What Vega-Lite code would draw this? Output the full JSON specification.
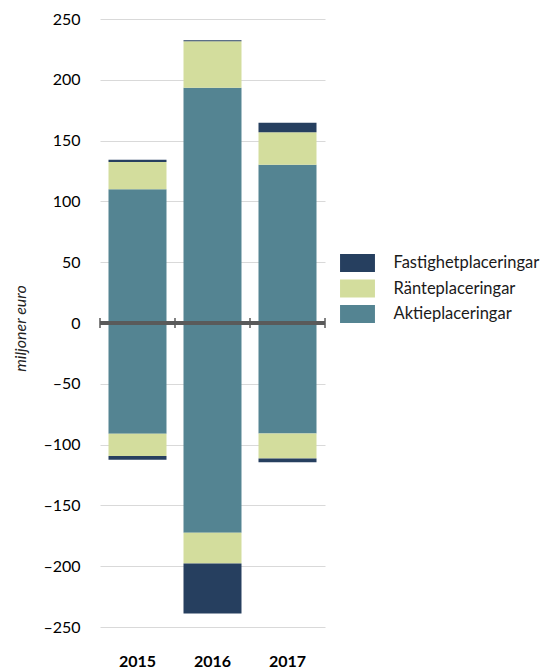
{
  "$schema": "https://vega.github.io/schema/vega-lite/v6.json",
  "width": 225,
  "height": 608,
  "autosize": "none",
  "padding": {"left": 100, "top": 19, "right": 224, "bottom": 42},
  "background": "white",
  "config": {
    "view": {"stroke": null},
    "font": "Lato",
    "axis": {"labelFont": "Lato", "titleFont": "Lato"},
    "legend": {"labelFont": "Lato"}
  },
  "data": {
    "values": [
      {"year": "2015", "type": "Aktieplaceringar", "ord": 1, "value": 110},
      {"year": "2015", "type": "Ränteplaceringar", "ord": 2, "value": 22.5},
      {"year": "2015", "type": "Fastighetplaceringar", "ord": 3, "value": 1.7},
      {"year": "2015", "type": "Aktieplaceringar", "ord": 1, "value": -91},
      {"year": "2015", "type": "Ränteplaceringar", "ord": 2, "value": -18.4},
      {"year": "2015", "type": "Fastighetplaceringar", "ord": 3, "value": -3},
      {"year": "2016", "type": "Aktieplaceringar", "ord": 1, "value": 193.4},
      {"year": "2016", "type": "Ränteplaceringar", "ord": 2, "value": 38.2},
      {"year": "2016", "type": "Fastighetplaceringar", "ord": 3, "value": 1},
      {"year": "2016", "type": "Aktieplaceringar", "ord": 1, "value": -172.5},
      {"year": "2016", "type": "Ränteplaceringar", "ord": 2, "value": -25.3},
      {"year": "2016", "type": "Fastighetplaceringar", "ord": 3, "value": -41.2},
      {"year": "2017", "type": "Aktieplaceringar", "ord": 1, "value": 130.2},
      {"year": "2017", "type": "Ränteplaceringar", "ord": 2, "value": 26.6},
      {"year": "2017", "type": "Fastighetplaceringar", "ord": 3, "value": 7.8},
      {"year": "2017", "type": "Aktieplaceringar", "ord": 1, "value": -90.9},
      {"year": "2017", "type": "Ränteplaceringar", "ord": 2, "value": -20.6},
      {"year": "2017", "type": "Fastighetplaceringar", "ord": 3, "value": -3.1}
    ]
  },
  "encoding": {
    "x": {
      "field": "year",
      "type": "nominal",
      "scale": {"paddingInner": 0.2267, "paddingOuter": 0.1133},
      "axis": {
        "title": null,
        "labelAngle": 0,
        "labelFontSize": 16,
        "labelFontWeight": "bold",
        "labelColor": "#000000",
        "labelPadding": 26,
        "ticks": false,
        "domain": false
      }
    }
  },
  "layer": [
    {
      "mark": {"type": "bar"},
      "encoding": {
        "y": {
          "field": "value",
          "type": "quantitative",
          "stack": "zero",
          "scale": {"domain": [-250, 250], "nice": false},
          "axis": {
            "values": [-250, -200, -150, -100, -50, 0, 50, 100, 150, 200, 250],
            "labelExpr": "replace(datum.label, /[-\u2212]/, '\u2013')",
            "title": "miljoner euro",
            "titleFontStyle": "italic",
            "titleFontWeight": "normal",
            "titleFontSize": 16,
            "titleColor": "#222222",
            "titlePadding": 14,
            "titleY": 309,
            "labelFontSize": 16,
            "labelColor": "#000000",
            "labelPadding": 20,
            "ticks": false,
            "domain": false,
            "gridColor": "#d9d9d9",
            "gridWidth": 1
          }
        },
        "color": {
          "field": "type",
          "type": "nominal",
          "scale": {
            "domain": ["Fastighetplaceringar", "Ränteplaceringar", "Aktieplaceringar"],
            "range": ["#263f5f", "#d3dd9d", "#548492"]
          },
          "legend": {
            "title": null,
            "orient": "none",
            "legendX": 248.5,
            "legendY": 235,
            "padding": 0,
            "symbolType": "M-1.94,-1h3.88v2h-3.88Z",
            "symbolSize": 324,
            "symbolStrokeWidth": 0,
            "labelFontSize": 16.5,
            "labelColor": "#1a1a1a",
            "labelOffset": 27,
            "rowPadding": 7.5
          }
        },
        "order": {"field": "ord", "type": "quantitative"}
      }
    },
    {
      "mark": {"type": "rule", "color": "#5a5a5a", "strokeWidth": 3},
      "encoding": {"y": {"datum": 0}, "x": null}
    },
    {
      "transform": [{"filter": "datum.type === 'Aktieplaceringar' && datum.value > 0"}],
      "mark": {"type": "rule", "color": "#5a5a5a", "strokeWidth": 1.5},
      "encoding": {
        "x": {"field": "year", "type": "nominal", "bandPosition": -0.1466},
        "y": {"datum": -4.1},
        "y2": {"datum": 4.1}
      }
    },
    {
      "transform": [{"filter": "datum.type === 'Aktieplaceringar' && datum.value > 0 && datum.year === '2017'"}],
      "mark": {"type": "rule", "color": "#5a5a5a", "strokeWidth": 1.5},
      "encoding": {
        "x": {"field": "year", "type": "nominal", "bandPosition": 1.1466},
        "y": {"datum": -4.1},
        "y2": {"datum": 4.1}
      }
    }
  ]
}
